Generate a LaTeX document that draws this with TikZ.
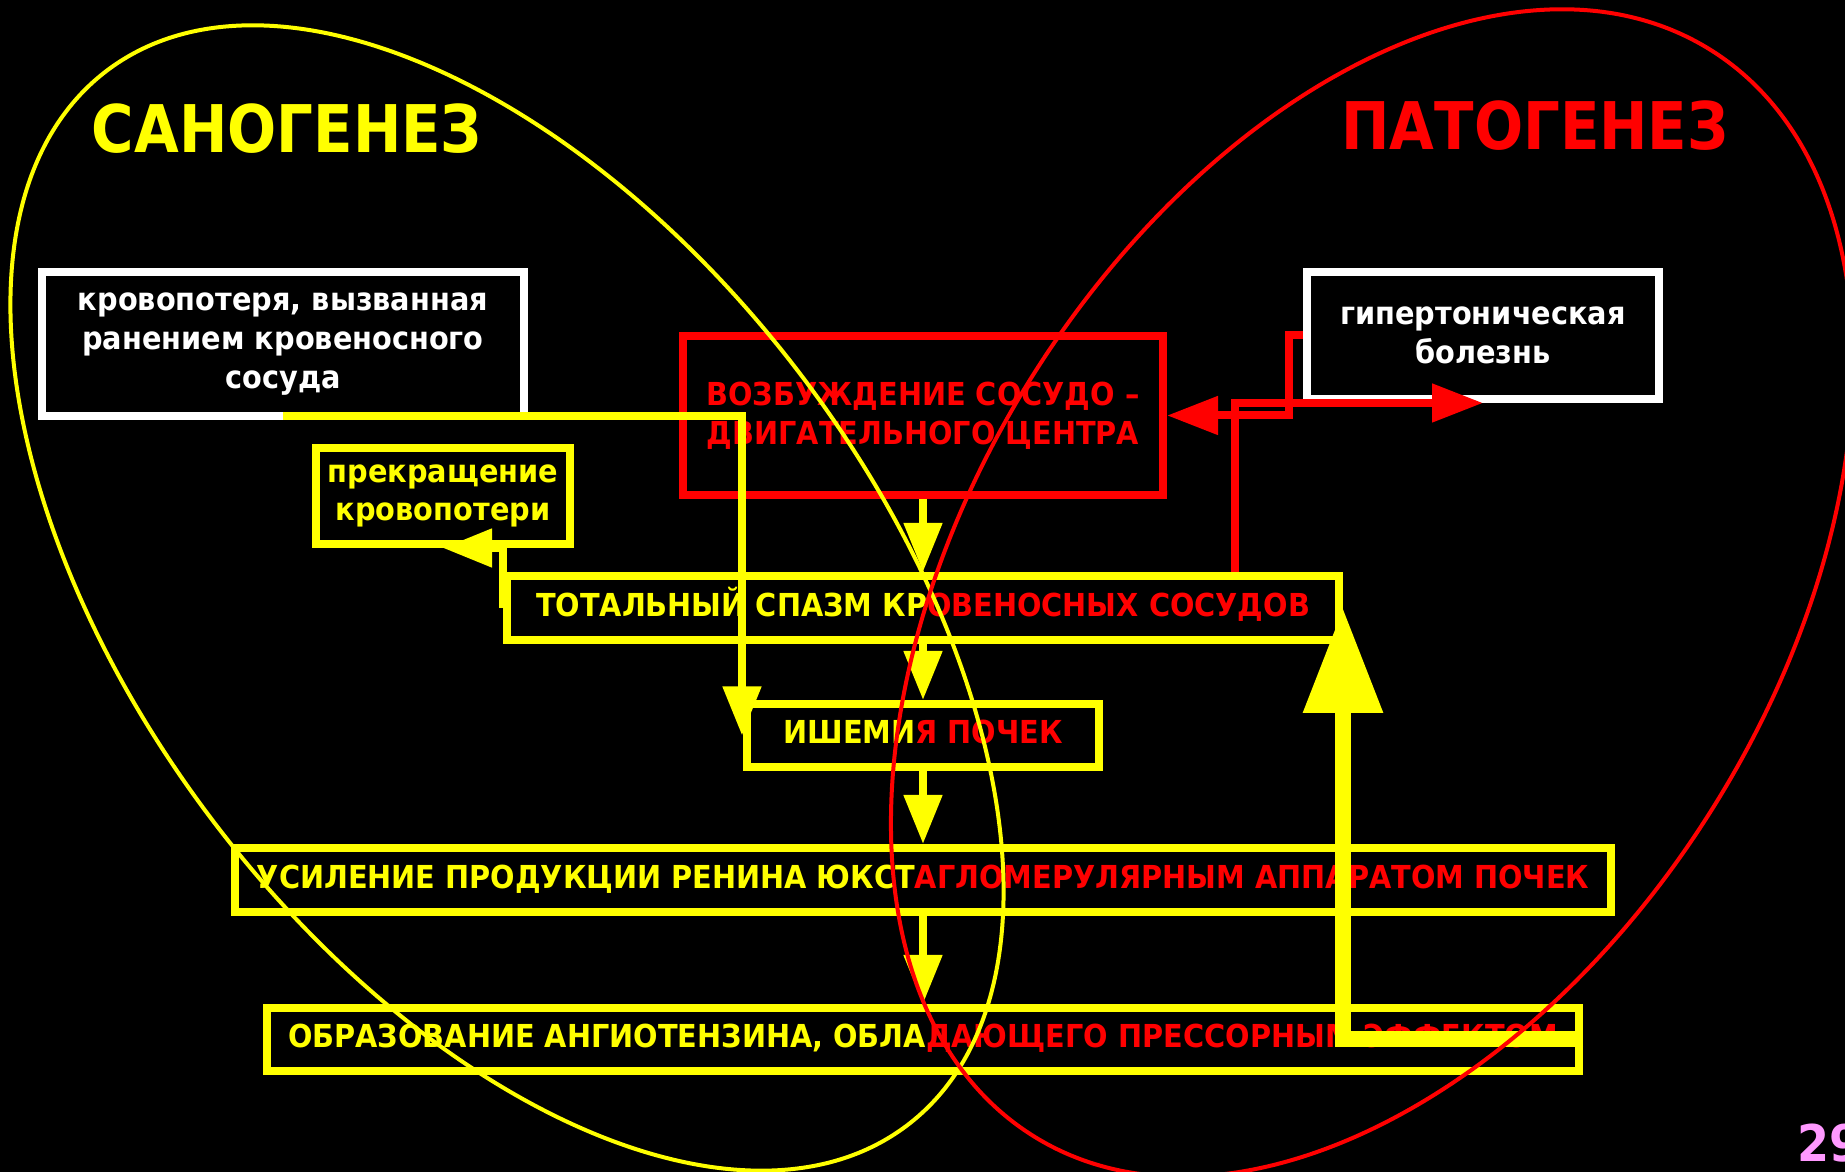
\documentclass[tikz,border=0pt]{standalone}
\usepackage{fontspec}
\setmainfont{DejaVu Sans}[FakeStretch=0.91]
\newfontfamily\titlefont{DejaVu Sans}[FakeStretch=0.88]
\usetikzlibrary{arrows.meta}
\definecolor{yel}{RGB}{255,255,0}
\definecolor{rd}{RGB}{255,0,0}
\definecolor{pagecol}{RGB}{255,153,255}

\begin{document}
\begin{tikzpicture}[
    x=0.1mm, y=-0.1mm,
    box/.style={draw, line width=0.8mm, fill=black, align=center, inner sep=0pt,
      font=\fontsize{9}{11}\selectfont\bfseries},
    white box/.style={box, draw=white, text=white},
    red box/.style={box, draw=rd, text=rd},
    yellow box/.style={box, draw=yel, text=yel},
    one line/.style={yellow box, text height=6.6pt, text depth=2pt},
    flow/.style={yel, line width=0.8mm, -{Triangle[length=4.9mm, width=3.7mm]}},
    back/.style={rd, line width=0.8mm, -{Triangle[length=5.1mm, width=3.7mm]}},
    big arrow/.style={yel, line width=1.6mm, -{Triangle[length=10.5mm, width=7.6mm]}},
    heading/.style={anchor=base, font=\titlefont\fontsize{18.7}{20}\selectfont\bfseries},
    oval/.style={line width=0.4mm}
    ]
    % background
    \path[use as bounding box, fill=black] (0,0) rectangle (1845,1172);

    % headings
    \node[heading, text=yel] (sano) at (287,153) {САНОГЕНЕЗ};
    \node[heading, text=rd] (pato) at (1535,150) {ПАТОГЕНЕЗ};

    % boxes
    \node[white box, minimum width=48.2mm, minimum height=14.4mm] (loss) at (283,344)
      {кровопотеря, вызванная\\ранением кровеносного\\сосуда};
    \node[white box, minimum width=35.2mm, minimum height=12.7mm] (hyper) at (1483,335.5)
      {гипертоническая\\болезнь};
    \node[red box, minimum width=48mm, minimum height=15.9mm] (center) at (923,415.5)
      {ВОЗБУЖДЕНИЕ СОСУДО –\\ДВИГАТЕЛЬНОГО ЦЕНТРА};
    \node[yellow box, minimum width=25.4mm, minimum height=9.6mm] (stop) at (443,496)
      {прекращение\\кровопотери};
    \node[one line, minimum width=83.2mm, minimum height=6.4mm] (spasm) at (923,608)
      {ТОТАЛЬНЫЙ СПАЗМ КР\textcolor{rd}{ОВЕНОСНЫХ СОСУДОВ}};
    \node[one line, minimum width=35.2mm, minimum height=6.3mm] (ischemia) at (923,735.5)
      {ИШЕМИ\textcolor{rd}{Я ПОЧЕК}};
    \node[one line, minimum width=137.6mm, minimum height=6.4mm] (renin) at (923,880)
      {УСИЛЕНИЕ ПРОДУКЦИИ РЕНИНА ЮКСТ\textcolor{rd}{АГЛОМЕРУЛЯРНЫМ АППАРАТОМ ПОЧЕК}};
    \node[one line, minimum width=131.2mm, minimum height=6.3mm] (angio) at (923,1039.5)
      {ОБРАЗОВАНИЕ АНГИОТЕНЗИНА, ОБЛА\textcolor{rd}{ДАЮЩЕГО ПРЕССОРНЫМ ЭФФЕКТОМ}};

    % arrows
    \coordinate (ischemia in) at ([xshift=-0.1mm]ischemia.west);
    \draw[flow] (center) -- (spasm);
    \draw[flow] (spasm) -- (ischemia);
    \draw[flow] (ischemia) -- (renin);
    \draw[flow] (renin) -- (angio);
    \draw[flow] ([yshift=0.4mm]loss.south) -| (ischemia in);
    \draw[flow] (spasm.west) |- (stop.south);
    \draw[back] (hyper.west) -- ++(-14,0) |- (center.east);
    \draw[back] ([xshift=31.2mm]spasm.north) |- (hyper.south);
    \draw[big arrow] (angio.east) -| (spasm.east);

    % ovals
    \draw[oval, yel, rotate around={127.2:(507,598)}] (507,598) ellipse (662 and 369);
    \draw[oval, rd, rotate around={58.1:(1372,593)}] (1372,593) ellipse (640 and 403);

    % slide number
    \node[anchor=base west, text=pagecol, font=\fontsize{14.4}{16}\selectfont\bfseries] (page) at (1785,1162) {29};
\end{tikzpicture}
\end{document}
